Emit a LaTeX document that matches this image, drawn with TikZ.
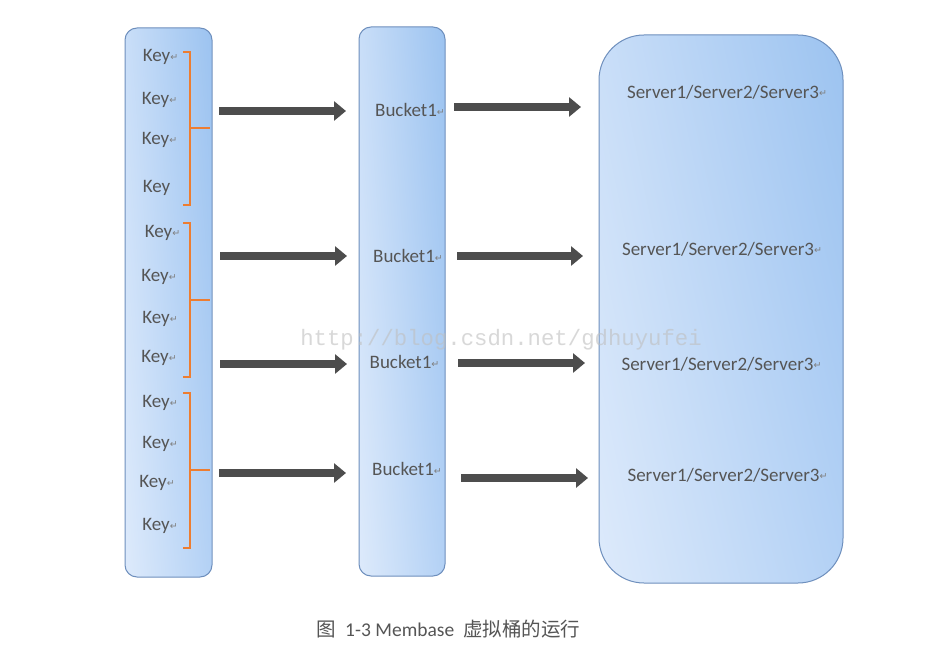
\documentclass[tikz,border=0pt]{standalone}
\usepackage{fontspec}
\setmainfont{Carlito}
\newfontfamily\symfont{DejaVu Sans}
\newfontfamily\cjkfont{Noto Sans CJK SC}
\newfontfamily\wmfont{Liberation Mono}
\usetikzlibrary{arrows.meta,shadings}
\definecolor{txt}{HTML}{555555}
\definecolor{retc}{HTML}{7F7F7F}
\definecolor{edge}{HTML}{6E8FBD}
\definecolor{ul}{HTML}{C9DEF8}
\definecolor{ur}{HTML}{9CC3F0}
\definecolor{ll}{HTML}{DDEAFB}
\definecolor{lr}{HTML}{B3D1F5}
\definecolor{arrowc}{HTML}{4D4D4D}
\definecolor{bracec}{HTML}{ED7D31}
\newcommand{\ret}{\raisebox{1.5pt}{\symfont\fontsize{9.5}{9.5}\selectfont\textcolor{retc}{↵}}}
\tikzset{
  x=1pt, y=-1pt,
  panel/.style={draw=edge, line width=1pt, upper left=ul, upper right=ur, lower left=ll, lower right=lr},
  lbl/.style={text=txt, font=\fontsize{19}{19}\selectfont, inner sep=0pt},
  fat/.style={draw=arrowc, line width=8pt, -{Triangle[length=12pt,width=19pt]}},
  brace/.style={draw=bracec, line width=2pt},
}
\begin{document}
\begin{tikzpicture}
\path[use as bounding box, fill=white] (0,0) rectangle (941,652);
% panels
\node[panel, rounded corners=12pt, minimum width=87pt, minimum height=549pt] (keys) at (168.5,302.5) {};
\node[panel, rounded corners=12pt, minimum width=86pt, minimum height=549pt] (buckets) at (402,301.5) {};
\node[panel, rounded corners=45pt, minimum width=244pt, minimum height=548pt] (servers) at (721,309) {};
% keys
\node[lbl] (k1) at (160.5,57) {Key\ret};
\node[lbl] (k2) at (159.5,100) {Key\ret};
\node[lbl] (k3) at (159.5,140) {Key\ret};
\node[lbl] (k4) at (156.5,188) {Key};
\node[lbl] (k5) at (162.5,233) {Key\ret};
\node[lbl] (k6) at (159,277) {Key\ret};
\node[lbl] (k7) at (160,319) {Key\ret};
\node[lbl] (k8) at (159,358) {Key\ret};
\node[lbl] (k9) at (160,403) {Key\ret};
\node[lbl] (k10) at (160,444) {Key\ret};
\node[lbl] (k11) at (157,483) {Key\ret};
\node[lbl] (k12) at (160,526) {Key\ret};
% braces
\draw[brace] (183,52) -- (190,52) -- (190,205) -- (183,205);
\draw[brace] (190,128) -- (210,128);
\draw[brace] (183,223) -- (190,223) -- (190,377) -- (183,377);
\draw[brace] (190,300) -- (210,300);
\draw[brace] (183,393) -- (190,393) -- (190,548) -- (183,548);
\draw[brace] (190,470) -- (210,470);
% buckets
\node[lbl] (b1) at (410,110) {Bucket1\ret};
\node[lbl] (b2) at (408,256) {Bucket1\ret};
\node[lbl] (b3) at (404.5,362) {Bucket1\ret};
\node[lbl] (b4) at (407,469) {Bucket1\ret};
% servers
\node[lbl] (s1) at (727,92) {Server1/Server2/Server3\ret};
\node[lbl] (s2) at (722,249) {Server1/Server2/Server3\ret};
\node[lbl] (s3) at (721.5,364) {Server1/Server2/Server3\ret};
\node[lbl] (s4) at (727.5,475) {Server1/Server2/Server3\ret};
% arrow ends
\coordinate (a1s) at (219,111); \coordinate (a1e) at (346,111);
\coordinate (a2s) at (220,256); \coordinate (a2e) at (347,256);
\coordinate (a3s) at (220,364); \coordinate (a3e) at (347,364);
\coordinate (a4s) at (219,473); \coordinate (a4e) at (346,473);
\coordinate (c1s) at (454,107); \coordinate (c1e) at (581,107);
\coordinate (c2s) at (457,256); \coordinate (c2e) at (583,256);
\coordinate (c3s) at (458,363); \coordinate (c3e) at (585,363);
\coordinate (c4s) at (461,478); \coordinate (c4e) at (588,478);
\draw[fat] (a1s) -- (a1e);
\draw[fat] (a2s) -- (a2e);
\draw[fat] (a3s) -- (a3e);
\draw[fat] (a4s) -- (a4e);
\draw[fat] (c1s) -- (c1e);
\draw[fat] (c2s) -- (c2e);
\draw[fat] (c3s) -- (c3e);
\draw[fat] (c4s) -- (c4e);
% watermark
\node[inner sep=0pt, text=black!25, opacity=0.6, font=\wmfont\fontsize{22.3}{22.3}\selectfont] (wm) at (501,340) {http://blog.csdn.net/gdhuyufei};
% caption
\node[text=txt, inner sep=0pt, font=\fontsize{19.5}{19.5}\selectfont] (cap) at (448.5,629) {{\cjkfont 图}\ \ 1-3 Membase\ \ {\cjkfont 虚拟桶的运行}};
\end{tikzpicture}
\end{document}
